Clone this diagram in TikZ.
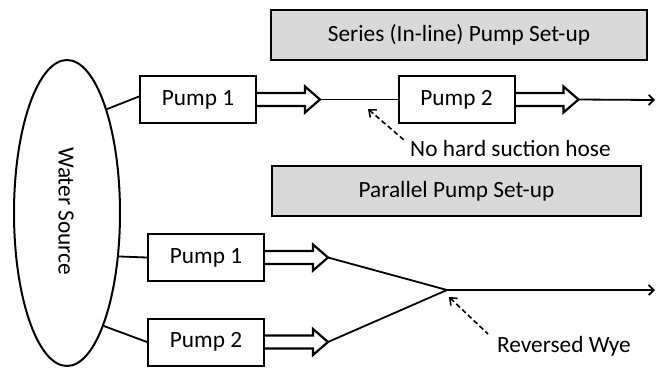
\documentclass[tikz,border=0pt]{standalone}
\usepackage{fontspec}
\setmainfont{Carlito}
\usetikzlibrary{shapes.geometric,arrows.meta}
\definecolor{hdrgray}{HTML}{D9D9D9}
\begin{document}
\begin{tikzpicture}[x=1pt,y=-1pt,
  every node/.style={font=\fontsize{23.3}{28}\selectfont},
  pumpbox/.style={draw,line width=2pt,minimum width=116pt,minimum height=47pt,inner sep=0pt},
  hdrbox/.style={draw,line width=1.6pt,fill=hdrgray,inner sep=0pt},
  pipe/.style={line width=1.8pt},
  note/.style={line width=1.6pt,dash pattern=on 5pt off 3pt,arrows={Straight Barb[length=6pt,width=10pt]-}},
  outarrow/.style={line width=1.8pt,arrows={-Straight Barb[length=5pt,width=10pt]}},
  fatarrow/.pic={\draw[line width=2.2pt,line join=miter] (0,6.5)--(48,6.5)--(48,13)--(63,0)--(48,-13)--(48,-6.5)--(0,-6.5); \coordinate (-tip) at (63,0);}
]
\useasboundingbox (0,0) rectangle (657,368);

% headers
\node[hdrbox,minimum width=376.5pt,minimum height=50.5pt] (hs) at (459,35) {Series (In-line) Pump Set-up};
\node[hdrbox,minimum width=369.5pt,minimum height=50.5pt] (hp) at (456.5,191) {Parallel Pump Set-up};

% water source
\node[draw,ellipse,line width=2pt,minimum width=106pt,minimum height=306pt,inner sep=0pt] (ws) at (67,213) {};
\node[rotate=-90] (wst) at (66,211) {Water Source};

% series
\node[pumpbox] (s1) at (198,99.5) {Pump 1};
\node[pumpbox] (s2) at (456.5,99.5) {Pump 2};
\pic (sa1) at (s1.east) {fatarrow};
\pic (sa2) at (s2.east) {fatarrow};
\coordinate (sout) at (655,100);
\draw[pipe] (ws.69) -- ([yshift=3pt]s1.west);
\draw[pipe] (sa1-tip) -- (s2.west);
\draw[outarrow] (sa2-tip) -- (sout);

\node[anchor=west,inner sep=0pt] (nh) at (410,148) {No hard suction hose};
\coordinate (nhtail) at (404,140);
\coordinate (hosept) at (368,109);
\draw[note] (hosept) -- (nhtail);

% parallel
\node[pumpbox] (p1) at (206,257.5) {Pump 1};
\node[pumpbox] (p2) at (206,342) {Pump 2};
\pic (pa1) at (p1.east) {fatarrow};
\pic (pa2) at (p2.east) {fatarrow};
\coordinate (wye) at (447,290);
\coordinate (pout) at (655,290);
\draw[pipe] (ws.-40) -- (p1.west);
\draw[pipe] (ws.-72) -- (p2.west);
\draw[pipe] (pa1-tip) -- (wye);
\draw[pipe] (pa2-tip) -- (wye);
\draw[outarrow] (wye) -- (pout);

\node[anchor=west,inner sep=0pt] (rw) at (497,346) {Reversed Wye};
\coordinate (rwtail) at (488,334);
\coordinate (wyept) at (449,297);
\draw[note] (wyept) -- (rwtail);
\end{tikzpicture}
\end{document}
